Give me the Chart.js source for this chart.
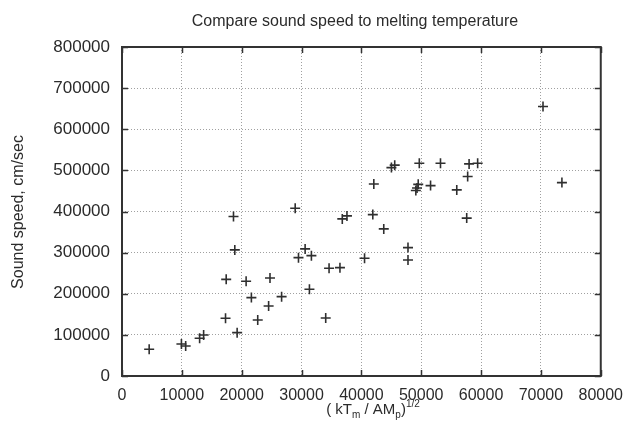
<!DOCTYPE html>
<html>
<head>
<meta charset="utf-8">
<script src="https://cdn.jsdelivr.net/npm/chart.js@4.4.1/dist/chart.umd.min.js"></script>
<style>
  html, body { margin: 0; padding: 0; background: #fff; }
  #wrap { width: 633px; height: 428px; }
</style>
</head>
<body>
<div id="wrap"><canvas id="chart" width="633" height="428"></canvas></div>
<script>
/* Sound speed vs (kTm/AMp)^1/2 scatter */

var X_VALUES = [4540, 9930, 10640, 12970, 13640, 17300, 17410, 18630, 18850, 19240,
  20740, 21620, 22680, 24500, 24730, 26670, 28940, 29490, 30600, 31320,
  31650, 34040, 34600, 36420, 36810, 37590, 40530, 41910, 42080, 43740,
  45020, 45570, 47790, 47790, 49100, 49500, 49300, 49680, 51560, 53220,
  55940, 57600, 57760, 58000, 59430, 70350, 73510];
var Y_VALUES = [65000, 77900, 73000, 91700, 99800, 140400, 235000, 387700, 306600, 105400,
  230400, 190600, 136300, 170300, 238400, 193000, 408000, 287800, 309000, 210900,
  292700, 141100, 262000, 263500, 382000, 389300, 286400, 392500, 467000, 357700,
  506800, 512700, 312200, 282200, 451000, 466000, 457000, 517500, 463000, 517500,
  452500, 384000, 485000, 515800, 517500, 655300, 470300];

var X_TICK_STEP = 10000, X_MAX = 80000;
var Y_TICK_STEP = 100000, Y_MAX = 800000;

var CHART_TITLE = 'Compare sound speed to melting temperature';
var Y_TITLE = 'Sound speed, cm/sec';

var FONT = '"Liberation Sans", Arial, Helvetica, sans-serif';
var INK = '#2b2b2b';

function buildPoints() {
  var pts = [];
  for (var i = 0; i < X_VALUES.length; i += 1) {
    pts.push({ x: X_VALUES[i], y: Y_VALUES[i] });
  }
  return pts;
}

function plainTick(value) {
  return String(value);
}

// frame, inward ticks and text labels
var framePlugin = {
  id: 'frame',
  afterDraw: function (chart) {
    var ctx = chart.ctx;
    var a = chart.chartArea;
    var xs = chart.scales.x;
    var ys = chart.scales.y;
    var v, p;

    ctx.save();
    ctx.strokeStyle = '#333';
    ctx.lineWidth = 1.5;
    ctx.beginPath();
    for (v = 0; v <= X_MAX; v += X_TICK_STEP) {
      p = Math.round(xs.getPixelForValue(v)) + 0.5;
      ctx.moveTo(p, a.bottom); ctx.lineTo(p, a.bottom - 6);
      ctx.moveTo(p, a.top); ctx.lineTo(p, a.top + 6);
    }
    for (v = 0; v <= Y_MAX; v += Y_TICK_STEP) {
      p = Math.round(ys.getPixelForValue(v)) + 0.5;
      ctx.moveTo(a.left, p); ctx.lineTo(a.left + 6, p);
      ctx.moveTo(a.right, p); ctx.lineTo(a.right - 6, p);
    }
    ctx.stroke();
    ctx.lineWidth = 2;
    ctx.strokeRect(a.left, a.top, a.right - a.left, a.bottom - a.top);

    ctx.fillStyle = INK;
    ctx.textBaseline = 'alphabetic';

    // title
    ctx.font = '16px ' + FONT;
    ctx.textAlign = 'center';
    ctx.fillText(CHART_TITLE, 355, 26);

    // x title: ( kT_m / AM_p)^1/2
    var parts = [
      { t: '( kT', size: 15, dy: 0 },
      { t: 'm', size: 10, dy: 4 },
      { t: ' / AM', size: 15, dy: 0 },
      { t: 'p', size: 10, dy: 4 },
      { t: ')', size: 15, dy: 0 },
      { t: '1/2', size: 10, dy: -7 }
    ];
    var total = 0, i;
    for (i = 0; i < parts.length; i += 1) {
      ctx.font = parts[i].size + 'px ' + FONT;
      parts[i].w = ctx.measureText(parts[i].t).width;
      total += parts[i].w;
    }
    var x = 373 - total / 2;
    var base = 414;
    ctx.textAlign = 'left';
    for (i = 0; i < parts.length; i += 1) {
      ctx.font = parts[i].size + 'px ' + FONT;
      ctx.fillText(parts[i].t, x, base + parts[i].dy);
      x += parts[i].w;
    }

    // y title
    ctx.font = '16px ' + FONT;
    ctx.textAlign = 'center';
    ctx.translate(23, 212);
    ctx.rotate(-Math.PI / 2);
    ctx.fillText(Y_TITLE, 0, 0);
    ctx.restore();
  }
};

new Chart(document.getElementById('chart').getContext('2d'), {
  type: 'scatter',
  data: {
    datasets: [{
      data: buildPoints(),
      pointStyle: 'cross',
      pointRadius: 5,
      borderColor: '#2f2f2f',
      backgroundColor: '#2f2f2f',
      pointBorderWidth: 1.6
    }]
  },
  plugins: [framePlugin],
  options: {
    responsive: false,
    animation: false,
    devicePixelRatio: 1,
    layout: { padding: { left: 0, right: 30, top: 47, bottom: 0 } },
    plugins: {
      legend: { display: false },
      tooltip: { enabled: false },
      title: { display: false }
    },
    scales: {
      x: {
        type: 'linear',
        min: 0,
        max: X_MAX,
        afterFit: function (scale) { scale.height = 52; },
        ticks: {
          stepSize: X_TICK_STEP,
          color: INK,
          padding: 10,
          maxRotation: 0,
          callback: plainTick,
          font: { family: FONT, size: 16 }
        },
        grid: { color: '#a0a0a0', lineWidth: 1, drawTicks: false },
        border: { display: false, dash: [1, 2] }
      },
      y: {
        type: 'linear',
        min: 0,
        max: Y_MAX,
        afterFit: function (scale) { scale.width = 122; },
        ticks: {
          stepSize: Y_TICK_STEP,
          color: INK,
          padding: 12,
          callback: plainTick,
          font: { family: FONT, size: 17 }
        },
        grid: { color: '#a0a0a0', lineWidth: 1, drawTicks: false },
        border: { display: false, dash: [1, 2] }
      }
    }
  }
});
</script>
</body>
</html>
